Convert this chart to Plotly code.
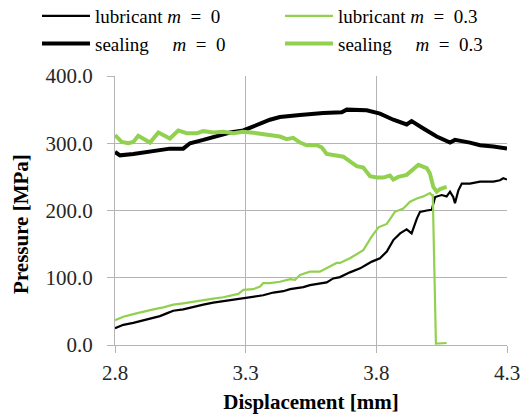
import plotly.graph_objects as go

# ---- data ----
lub0_x = [2.800, 2.832, 2.870, 2.908, 2.947, 2.972, 2.998, 3.023, 3.061, 3.100, 3.138, 3.176, 3.214,
          3.253, 3.291, 3.329, 3.367, 3.406, 3.444, 3.470, 3.495, 3.521, 3.546, 3.584, 3.610, 3.635,
          3.661, 3.699, 3.738, 3.760, 3.783, 3.814, 3.840, 3.865, 3.891, 3.916, 3.935, 3.955, 3.967,
          3.993, 4.012, 4.025, 4.050, 4.069, 4.082, 4.094, 4.101, 4.114, 4.127, 4.158, 4.197, 4.248,
          4.273, 4.286, 4.300]
lub0_y = [25, 30, 33, 37, 41, 43, 47, 51, 53, 56, 60, 63, 65,
          68, 70, 72, 74, 78, 80, 83, 84, 86, 89, 92, 93, 99,
          101, 108, 114, 119, 124, 129, 139, 156, 166, 172, 166, 188, 198,
          200, 201, 220, 223, 221, 228, 220, 211, 230, 240, 240, 243, 243,
          245, 248, 246]

seal0_x = [2.800, 2.819, 2.870, 2.908, 2.960, 3.010, 3.061, 3.087, 3.138, 3.189, 3.240, 3.291, 3.342,
           3.393, 3.431, 3.470, 3.508, 3.597, 3.667, 3.687, 3.763, 3.814, 3.865, 3.916, 3.935, 3.980,
           4.031, 4.082, 4.101, 4.158, 4.197, 4.248, 4.300]
seal0_y = [287, 282, 284, 286, 290, 292, 292, 300, 305, 310, 316, 319, 327,
           335, 339, 340, 342, 345, 346, 350, 349, 344, 335, 328, 333, 322,
           310, 301, 305, 301, 297, 295, 292]

lub3_x = [2.800, 2.832, 2.870, 2.908, 2.947, 2.985, 3.023, 3.061, 3.100, 3.138, 3.176, 3.214, 3.253,
          3.272, 3.291, 3.329, 3.355, 3.367, 3.393, 3.431, 3.470, 3.489, 3.508, 3.546, 3.584, 3.616,
          3.648, 3.661, 3.699, 3.750, 3.782, 3.808, 3.840, 3.871, 3.903, 3.929, 3.955, 3.980, 4.005,
          4.012, 4.016, 4.028, 4.069]
lub3_y = [37, 42, 46, 50, 53, 56, 60, 62, 64, 67, 69, 71, 74,
          76, 82, 83, 87, 92, 92, 94, 98, 97, 104, 109, 109, 116,
          122, 122, 129, 141, 161, 175, 180, 198, 203, 213, 218, 221, 226,
          223, 223, 2, 3]

seal3_x = [2.800, 2.826, 2.851, 2.870, 2.889, 2.915, 2.934, 2.966, 2.991, 3.010, 3.042, 3.074, 3.113,
           3.138, 3.176, 3.214, 3.253, 3.291, 3.342, 3.393, 3.431, 3.457, 3.482, 3.508, 3.534, 3.572,
           3.591, 3.610, 3.648, 3.674, 3.699, 3.725, 3.750, 3.776, 3.801, 3.827, 3.852, 3.865, 3.884,
           3.916, 3.961, 3.993, 4.005, 4.018, 4.031, 4.044, 4.069]
seal3_y = [312, 302, 300, 302, 311, 305, 301, 316, 311, 307, 319, 315, 315,
           318, 316, 317, 315, 317, 315, 312, 310, 306, 308, 301, 297, 297,
           294, 284, 282, 280, 273, 266, 264, 251, 249, 249, 252, 246, 250,
           253, 268, 263, 255, 235, 228, 232, 235]

x_ticks = [2.8, 3.3, 3.8, 4.3]
y_ticks = [0, 100, 200, 300, 400]

GREEN = "#92D050"
BLACK = "#000000"
FONT = "Liberation Serif"
EQ0 = "<i>m</i>  =  0"
EQ3 = "<i>m</i>  =  0.3"

fig = go.Figure()
fig.add_trace(go.Scatter(x=lub0_x, y=lub0_y, mode="lines", line=dict(color=BLACK, width=2.2),
                         name="lubricant " + EQ0, legend="legend"))
fig.add_trace(go.Scatter(x=seal0_x, y=seal0_y, mode="lines", line=dict(color=BLACK, width=4),
                         name="sealing     " + EQ0, legend="legend"))
fig.add_trace(go.Scatter(x=lub3_x, y=lub3_y, mode="lines", line=dict(color=GREEN, width=2.2),
                         name="lubricant " + EQ3, legend="legend2"))
fig.add_trace(go.Scatter(x=seal3_x, y=seal3_y, mode="lines", line=dict(color=GREEN, width=4),
                         name="sealing     " + EQ3, legend="legend2"))

axis_common = dict(
    showgrid=True, gridcolor="#b4b4b4", gridwidth=1,
    showline=True, linecolor="#b4b4b4", linewidth=1,
    ticks="outside", ticklen=7, tickcolor="#b4b4b4", tickwidth=1,
    zeroline=False, automargin=False,
    tickfont=dict(family=FONT, size=21, color="#262626"),
)

fig.update_xaxes(range=[2.8, 4.3], tickvals=x_ticks, ticktext=[f"{v:.1f}" for v in x_ticks],
                 ticklabelstandoff=2,
                 title=dict(text="<b>Displacement [mm]</b>", font=dict(family=FONT, size=21, color="#000"),
                            standoff=10),
                 **axis_common)
fig.update_yaxes(range=[0, 400], tickvals=y_ticks, ticktext=[f"{v:.1f}" for v in y_ticks],
                 ticklabelstandoff=10, **axis_common)

legend_common = dict(
    orientation="v", yanchor="top", xanchor="left", xref="paper", yref="paper",
    font=dict(family=FONT, size=19, color="#000"), bgcolor="rgba(0,0,0,0)",
    itemwidth=48, tracegroupgap=0, borderwidth=0,
)

fig.update_layout(
    width=522, height=416,
    margin=dict(l=115, r=15, t=76, b=71, autoexpand=False),
    paper_bgcolor="white", plot_bgcolor="white",
    showlegend=True,
    legend=dict(x=(37 - 115) / 392, y=(345 + 3) / 269, **legend_common),
    legend2=dict(x=(280 - 115) / 392, y=(345 + 3) / 269, **legend_common),
    annotations=[
        dict(text="<b>Pressure [MPa]</b>", xref="paper", yref="paper", x=(21 - 115) / 392,
             y=0.45, xanchor="center", yanchor="middle", textangle=-90, showarrow=False,
             font=dict(family=FONT, size=21, color="#000")),
    ],
)

fig.write_html("out.html", config={"displayModeBar": False},
               post_script="document.body.style.margin='0';")
